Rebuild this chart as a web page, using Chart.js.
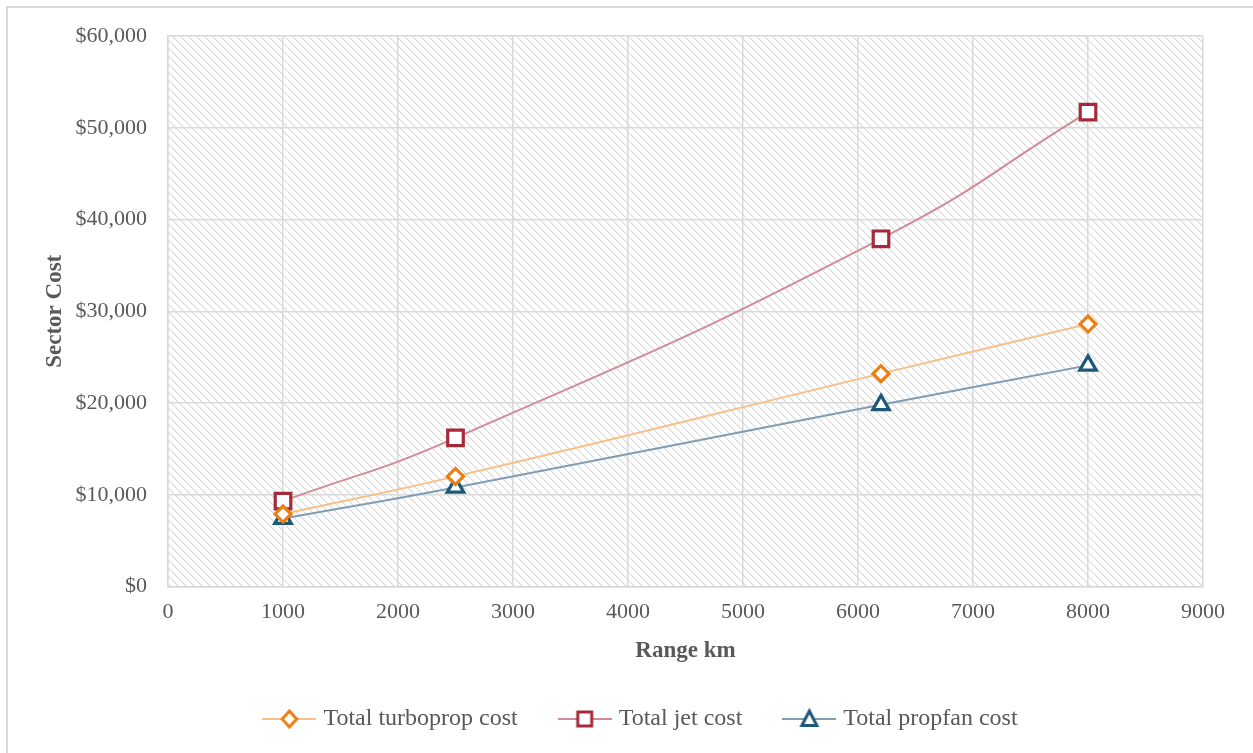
<!DOCTYPE html>
<html>
<head>
<meta charset="utf-8">
<title>Sector Cost by Range</title>
<script src="https://cdn.jsdelivr.net/npm/chart.js@4.4.1/dist/chart.umd.min.js"></script>
<style>
  html, body { margin: 0; padding: 0; background: #ffffff; overflow: hidden; }
  #frame { position: absolute; left: 6px; top: 6px; width: 1300px; height: 800px;
           border: 2px solid #d9d9d9; box-sizing: border-box; }
  #wrap { position: absolute; left: 0; top: 0; width: 1253px; height: 753px; }
</style>
</head>
<body>
<div id="frame"></div>
<div id="wrap"><canvas id="c" width="1253" height="753"></canvas></div>
<script>
// Sector cost (USD) against range (km)
const rangeKm       = [1000, 2500, 6200, 8000];
const turbopropCost = [7900, 12000, 23200, 28600];
const jetCost       = [9300, 16200, 37900, 51700];
const propfanCost   = [7400, 10800, 19800, 24100];

const seriesNames = ['Total turboprop cost', 'Total jet cost', 'Total propfan cost'];
const xTickValues = [0, 1000, 2000, 3000, 4000, 5000, 6000, 7000, 8000, 9000];
const yTickValues = [0, 10000, 20000, 30000, 40000, 50000, 60000];
const xTitle = 'Range km';
const yTitle = 'Sector Cost';

const FONT = "'Liberation Serif', 'DejaVu Serif', serif";
const TEXT = '#595959';
const GRID = '#d9d9d9';

const styles = [
  { line: '#f9bf89', mark: '#ec7f12', shape: 'rectRot',  radius: 8 },
  { line: '#d08d97', mark: '#a52a3a', shape: 'rect',     radius: 11 },
  { line: '#7f9db4', mark: '#1e5878', shape: 'triangle', radius: 9.5 }
];

function pairs(xs, ys) { return xs.map((x, i) => ({ x: x, y: ys[i] })); }

// diagonal hatch used for the plot background
function hatchPattern(ctx) {
  const p = document.createElement('canvas');
  p.width = 8; p.height = 8;
  const g = p.getContext('2d');
  g.fillStyle = '#ffffff';
  g.fillRect(0, 0, 8, 8);
  for (let i = 0; i < 8; i++) {
    g.fillStyle = '#d9d9d9';
    g.fillRect(i, i, 1, 1);
    g.fillStyle = '#eeeeee';
    g.fillRect((i + 1) % 8, i, 1, 1);
  }
  return ctx.createPattern(p, 'repeat');
}

// small legend glyph: a line segment with the series marker in the middle
function legendGlyph(st) {
  const c = document.createElement('canvas');
  c.width = 54; c.height = 24;
  const g = c.getContext('2d');
  g.strokeStyle = st.line; g.lineWidth = 2;
  g.beginPath(); g.moveTo(0, 12); g.lineTo(54, 12); g.stroke();
  g.lineWidth = 3; g.strokeStyle = st.mark; g.fillStyle = '#ffffff';
  g.beginPath();
  const cx = 27, cy = 12;
  if (st.shape === 'rectRot') {
    const r = 8;
    g.moveTo(cx, cy - r); g.lineTo(cx + r * 0.9, cy); g.lineTo(cx, cy + r); g.lineTo(cx - r * 0.9, cy); g.closePath();
  } else if (st.shape === 'rect') {
    g.rect(cx - 7, cy - 7, 14, 14);
  } else {
    g.moveTo(cx, cy - 8); g.lineTo(cx + 7.5, cy + 6.5); g.lineTo(cx - 7.5, cy + 6.5); g.closePath();
  }
  g.fill(); g.stroke();
  return c;
}

const glyphs = styles.map(legendGlyph);

const plotBackground = {
  id: 'plotBackground',
  beforeDraw(chart) {
    const { ctx, chartArea: a } = chart;
    ctx.save();
    ctx.fillStyle = hatchPattern(ctx);
    ctx.fillRect(a.left, a.top, a.right - a.left, a.bottom - a.top);
    ctx.restore();
  }
};

const legendShift = {
  id: 'legendShift',
  afterLayout(chart) {
    chart.legend.left += 27;
    chart.legend.right += 27;
    chart.legend.top += 2;
    chart.legend.bottom += 2;
  }
};

const seriesValues = [turbopropCost, jetCost, propfanCost];

new Chart(document.getElementById('c'), {
  type: 'line',
  data: {
    datasets: seriesValues.map((vals, i) => ({
      label: seriesNames[i],
      data: pairs(rangeKm, vals),
      borderColor: styles[i].line,
      borderWidth: 2,
      tension: 0.5,
      fill: false,
      pointStyle: styles[i].shape,
      pointRadius: styles[i].radius,
      pointHoverRadius: styles[i].radius,
      pointBorderColor: styles[i].mark,
      pointBackgroundColor: '#ffffff',
      pointBorderWidth: 3.2
    }))
  },
  options: {
    responsive: false,
    animation: false,
    devicePixelRatio: 1,
    layout: { padding: { left: 28, right: 50, top: 36, bottom: 14 } },
    plugins: {
      tooltip: { enabled: false },
      legend: {
        position: 'bottom',
        labels: {
          usePointStyle: true,
          pointStyleWidth: 44,
          padding: 45,
          color: TEXT,
          font: { family: FONT, size: 24 },
          generateLabels: () => seriesNames.map((name, i) => ({
            text: name,
            pointStyle: glyphs[i],
            fontColor: TEXT,
            datasetIndex: i,
            hidden: false,
            lineWidth: 0,
            strokeStyle: 'transparent',
            fillStyle: 'transparent'
          }))
        }
      }
    },
    scales: {
      x: {
        type: 'linear',
        min: 0, max: 9000,
        afterBuildTicks: s => { s.ticks = xTickValues.map(v => ({ value: v })); },
        afterFit: s => { s.height = 73.5; },
        ticks: { color: TEXT, font: { family: FONT, size: 22 }, padding: 13,
                 callback: v => String(v) },
        grid: { color: GRID, lineWidth: 1.5, drawTicks: false },
        border: { color: GRID, width: 1.5 },
        title: { display: true, text: xTitle, color: TEXT, padding: { top: 0, bottom: -5 },
                 font: { family: FONT, size: 23, weight: 'bold' } }
      },
      y: {
        type: 'linear',
        min: 0, max: 60000,
        afterBuildTicks: s => { s.ticks = yTickValues.map(v => ({ value: v })); },
        afterFit: s => { s.width = 140; },
        ticks: { color: TEXT, font: { family: FONT, size: 22 }, padding: 21,
                 callback: v => '$' + v.toLocaleString('en-US') },
        grid: { color: GRID, lineWidth: 1.5, drawTicks: false },
        border: { color: GRID, width: 1.5 },
        title: { display: true, text: yTitle, color: TEXT, padding: { top: 13, bottom: 0 },
                 font: { family: FONT, size: 23, weight: 'bold' } }
      }
    }
  },
  plugins: [plotBackground, legendShift]
});
</script>
</body>
</html>
